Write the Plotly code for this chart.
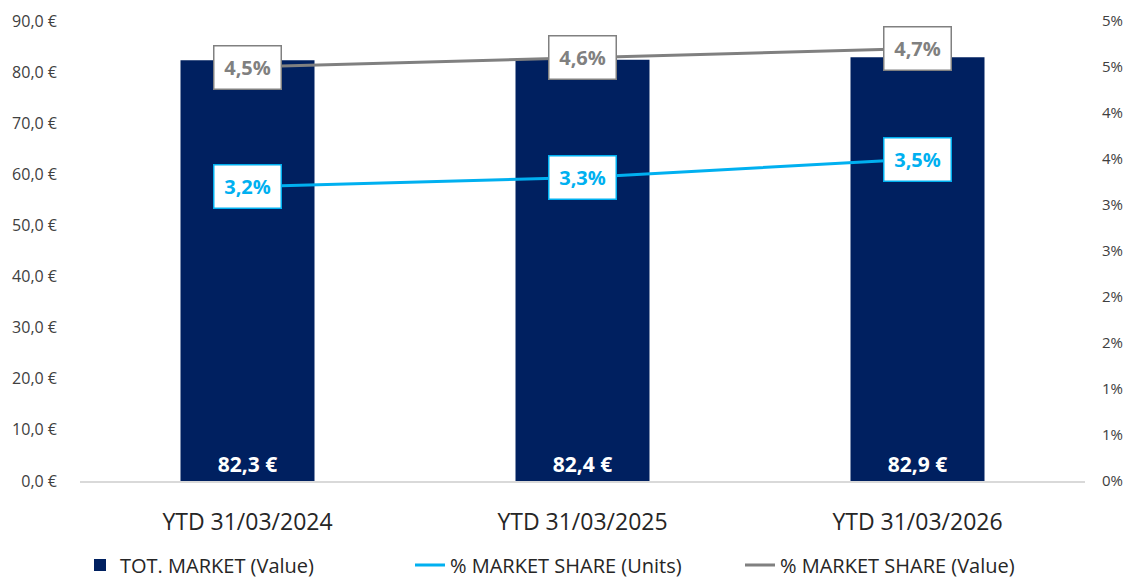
import plotly.graph_objects as go

categories = ["YTD 31/03/2024", "YTD 31/03/2025", "YTD 31/03/2026"]
market_value = [82.3, 82.4, 82.9]
share_units = [3.2, 3.3, 3.5]
share_value = [4.5, 4.6, 4.7]
y2_tickvals = [0, 0.5, 1, 1.5, 2, 2.5, 3, 3.5, 4, 4.5, 5]
y2_ticktext = ["0%", "1%", "1%", "2%", "2%", "3%", "3%", "4%", "4%", "5%", "5%"]

NAVY = "#002060"
BLUE = "#00B0F0"
GRAY = "#808080"
FONT = "Open Sans"

def fmt(v, suffix):
    return f"{v:.1f}".replace(".", ",") + suffix

fig = go.Figure()
fig.add_trace(go.Bar(
    x=categories, y=market_value, name="TOT. MARKET (Value)",
    marker=dict(color=NAVY, line=dict(width=0)),
    text=[fmt(v, " €") for v in market_value],
    textposition="inside", insidetextanchor="start",
    textfont=dict(color="white", size=21, family=FONT, weight="bold"),
    yaxis="y",
))
fig.add_trace(go.Scatter(
    x=categories, y=share_units, name="% MARKET SHARE (Units)",
    mode="lines", line=dict(color=BLUE, width=3), yaxis="y2",
))
fig.add_trace(go.Scatter(
    x=categories, y=share_value, name="% MARKET SHARE (Value)",
    mode="lines", line=dict(color=GRAY, width=3), yaxis="y2",
))

annotations = []
for series, color in ((share_units, BLUE), (share_value, GRAY)):
    for c, v in zip(categories, series):
        annotations.append(dict(
            x=c, y=v, xref="x", yref="y2", text=f"<b>{fmt(v, '%')}</b>",
            showarrow=False, font=dict(color=color, size=20, family=FONT),
            bgcolor="white", bordercolor=color, borderwidth=1.5, borderpad=8,
            width=50, height=26,
        ))

fig.update_layout(
    width=1126, height=579,
    margin=dict(l=80, r=41, t=21, b=98, autoexpand=False),
    paper_bgcolor="white", plot_bgcolor="white",
    font=dict(family=FONT, color="#404040", size=16),
    bargap=0.6,
    separators=", ",
    showlegend=True,
    legend=dict(orientation="h", x=0.0, xanchor="left", y=-0.14, yanchor="top",
                font=dict(size=20, color="#262626"), entrywidth=285,
                traceorder="normal"),
    xaxis=dict(showgrid=False, showline=True, linecolor="#D9D9D9", linewidth=1.5,
               tickfont=dict(size=23, color="#262626"), ticks="", ticklabelstandoff=20,
               automargin=False),
    yaxis=dict(range=[0, 90], dtick=10, tickformat=",.1f", ticksuffix=" €",
               showgrid=False, zeroline=False, showline=False, automargin=False,
               tickfont=dict(size=16, color="#404040"), ticklabelstandoff=22),
    yaxis2=dict(range=[0, 5], overlaying="y", side="right", automargin=False,
                tickvals=y2_tickvals, ticktext=y2_ticktext,
                showgrid=False, zeroline=False, showline=False,
                tickfont=dict(size=15, color="#404040"), ticklabelstandoff=16),
    annotations=annotations,
)

fig.write_html("out.html", config={"displayModeBar": False},
               post_script="document.body.style.margin='0';")
